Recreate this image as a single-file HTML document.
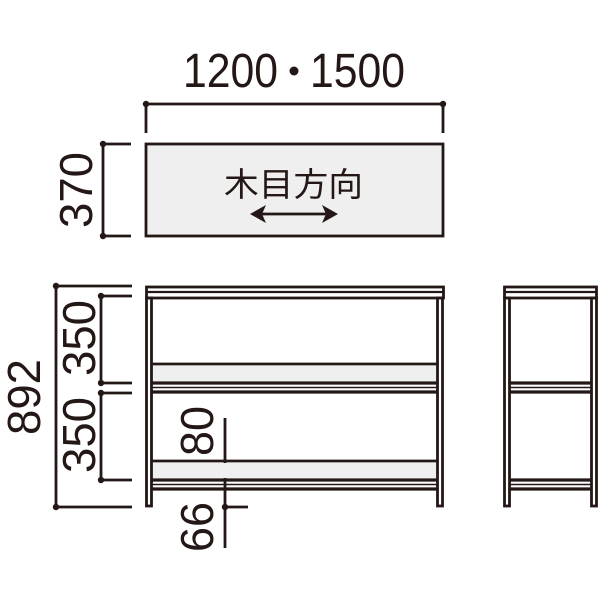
<!DOCTYPE html>
<html><head><meta charset="utf-8"><style>html,body{margin:0;padding:0;background:#fff}svg{display:block}</style></head>
<body>
<svg width="600" height="600" viewBox="0 0 600 600" xmlns="http://www.w3.org/2000/svg" font-family="Liberation Sans, sans-serif" fill="#231815">
<g stroke="#231815" stroke-width="2.8" fill="none">
<line x1="146" y1="104" x2="443" y2="104"/>
<line x1="146" y1="104" x2="146" y2="133"/>
<line x1="443" y1="104" x2="443" y2="133"/>
<rect x="146" y="144" width="297" height="92" fill="#efefef"/>
<line x1="103" y1="144" x2="103" y2="236"/>
<line x1="103" y1="144" x2="131" y2="144"/>
<line x1="103" y1="236" x2="131" y2="236"/>
<line x1="56" y1="286" x2="56" y2="507"/>
<line x1="56" y1="286" x2="132" y2="286"/>
<line x1="56" y1="507" x2="132" y2="507"/>
<line x1="101" y1="296" x2="101" y2="383"/>
<line x1="101" y1="296" x2="132" y2="296"/>
<line x1="101" y1="383" x2="132" y2="383"/>
<line x1="101" y1="393" x2="101" y2="480"/>
<line x1="101" y1="393" x2="132" y2="393"/>
<line x1="101" y1="480" x2="132" y2="480"/>
<line x1="225" y1="418" x2="225" y2="548"/>
<line x1="225" y1="507" x2="248" y2="507"/>
</g>
<g fill="#231815">
<circle cx="146" cy="104" r="3.2"/><circle cx="443" cy="104" r="3.2"/>
<circle cx="103" cy="144" r="3.2"/><circle cx="103" cy="236" r="3.2"/>
<circle cx="56" cy="286" r="3.2"/><circle cx="56" cy="507" r="3.2"/>
<circle cx="101" cy="296" r="3.2"/><circle cx="101" cy="383" r="3.2"/>
<circle cx="101" cy="393" r="3.2"/><circle cx="101" cy="480" r="3.2"/>
<circle cx="225" cy="507" r="3.2"/>
</g>
<g stroke="#231815" stroke-width="2.8"><line x1="258" y1="214" x2="330" y2="214"/></g>
<polygon points="250,214 266,205 262,214 266,223" fill="#231815"/>
<polygon points="338,214 322,205 326,214 322,223" fill="#231815"/>
<g fill="#efefef"><rect x="152" y="366" width="285" height="15"/><rect x="152" y="463" width="285" height="15"/></g>
<g stroke="#231815" fill="none">
<rect x="146.5" y="287" width="297" height="11" stroke-width="2.8"/>
<line x1="146" y1="292" x2="444" y2="292" stroke-width="2.2"/>
<rect x="146.5" y="298" width="5" height="208" stroke-width="2.8"/>
<rect x="437.5" y="298" width="5" height="208" stroke-width="2.8"/>
<line x1="152" y1="364" x2="437" y2="364" stroke-width="2.8"/>
<line x1="152" y1="383" x2="437" y2="383" stroke-width="3.2"/>
<line x1="152" y1="387.5" x2="437" y2="387.5" stroke-width="1.5"/>
<line x1="152" y1="392" x2="437" y2="392" stroke-width="3.2"/>
<line x1="152" y1="461" x2="437" y2="461" stroke-width="2.8"/>
<line x1="152" y1="480" x2="437" y2="480" stroke-width="3.2"/>
<line x1="152" y1="484.5" x2="437" y2="484.5" stroke-width="1.5"/>
<line x1="152" y1="489" x2="437" y2="489" stroke-width="3.2"/>
<rect x="504.5" y="287" width="92" height="11" stroke-width="2.8"/>
<line x1="504" y1="292" x2="597" y2="292" stroke-width="2.2"/>
<rect x="504.5" y="298" width="5" height="208" stroke-width="2.8"/>
<rect x="591.5" y="298" width="5" height="208" stroke-width="2.8"/>
<line x1="510" y1="383" x2="591" y2="383" stroke-width="3.2"/>
<line x1="510" y1="387.5" x2="591" y2="387.5" stroke-width="1.5"/>
<line x1="510" y1="392" x2="591" y2="392" stroke-width="3.2"/>
<line x1="510" y1="480" x2="591" y2="480" stroke-width="3.2"/>
<line x1="510" y1="484.5" x2="591" y2="484.5" stroke-width="1.5"/>
<line x1="510" y1="489" x2="591" y2="489" stroke-width="3.2"/>
</g>
<text x="183" y="87" font-size="48" textLength="95" lengthAdjust="spacingAndGlyphs">1200</text>
<circle cx="294" cy="71" r="4.5"/>
<text x="310" y="87" font-size="48" textLength="95" lengthAdjust="spacingAndGlyphs">1500</text>
<text x="224" y="196" font-size="33" font-family="Liberation Sans, Noto Sans CJK JP, sans-serif" textLength="139" lengthAdjust="spacingAndGlyphs">木目方向</text>
<text transform="translate(92,190) rotate(-90)" font-size="46" text-anchor="middle" textLength="76" lengthAdjust="spacingAndGlyphs">370</text>
<text transform="translate(40,397) rotate(-90)" font-size="46" text-anchor="middle" textLength="76" lengthAdjust="spacingAndGlyphs">892</text>
<text transform="translate(95,338) rotate(-90)" font-size="46" text-anchor="middle" textLength="76" lengthAdjust="spacingAndGlyphs">350</text>
<text transform="translate(95,435) rotate(-90)" font-size="46" text-anchor="middle" textLength="76" lengthAdjust="spacingAndGlyphs">350</text>
<text transform="translate(213,431) rotate(-90)" font-size="46" text-anchor="middle" textLength="50" lengthAdjust="spacingAndGlyphs">80</text>
<text transform="translate(213,527) rotate(-90)" font-size="46" text-anchor="middle" textLength="50" lengthAdjust="spacingAndGlyphs">66</text>
</svg>
</body></html>
